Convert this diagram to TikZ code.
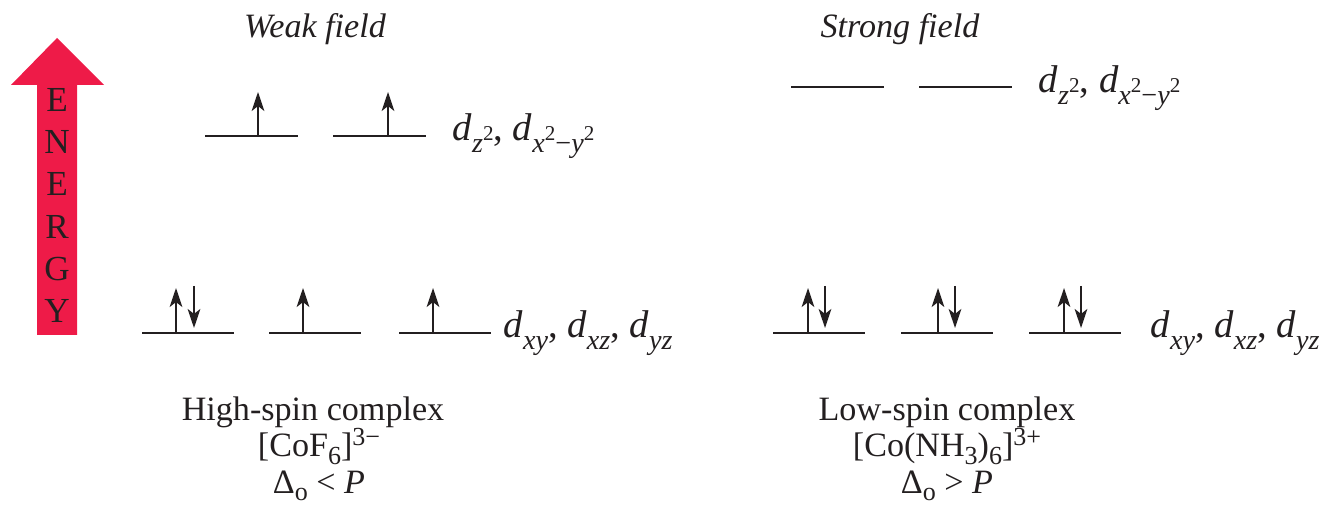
\documentclass[tikz,border=0pt]{standalone}
\usepackage{fontspec}
\setmainfont{Liberation Serif}
\usetikzlibrary{arrows.meta}
\definecolor{mydark}{RGB}{35,31,32}
\definecolor{energyred}{RGB}{238,27,72}
\newcommand{\dsub}[1]{\textit{d}\raisebox{-3.2pt}{\fontsize{8}{9}\selectfont #1}}
\newcommand{\ssup}[1]{\raisebox{3.2pt}{\fontsize{6}{7}\selectfont #1}}
\newcommand{\tsub}[1]{\raisebox{-2.2pt}{\fontsize{7.4}{8}\selectfont #1}}
\newcommand{\tsup}[1]{\raisebox{3.4pt}{\fontsize{7.4}{8}\selectfont #1}}
\newcommand{\mns}{\symbol{"2212}}
\tikzset{
  level/.style={line width=0.75pt, color=mydark},
  spin/.style={-{Stealth[length=5.4pt,width=3.6pt,inset=1.4pt]}, line width=0.6pt, color=mydark},
  lbl/.style={anchor=base west, inner sep=0pt, font=\fontsize{11}{13}\selectfont, text=mydark},
  txt/.style={anchor=base, inner sep=0pt, font=\fontsize{9.7}{11}\selectfont, text=mydark}
}
\begin{document}
\begin{tikzpicture}[x=0.01cm, y=-0.01cm]
  \useasboundingbox (0,0) rectangle (1322,516);
  % Energy arrow
  \fill[energyred] (37,335) -- (37,85) -- (11,85) -- (57,38) -- (104,85) -- (77,85) -- (77,335) -- cycle;
  \foreach \ch [count=\i from 0] in {E,N,E,R,G,Y}
    \node[font=\fontsize{10}{12}\selectfont, text=mydark, inner sep=0pt] (en\i) at (57,{100+42.2*\i}) {\ch};
  % Titles
  \node[txt] (weak) at (315,38) {\textit{Weak field}};
  \node[txt] (strong) at (900,38) {\textit{Strong field}};
  % Weak field levels
  \foreach \xa in {205,333}
    \draw[level] (\xa,136) -- ++(93,0);
  \foreach \xa in {142,269,399}
    \draw[level] (\xa,333) -- ++(92,0);
  \draw[spin] (258,136) -- (258,92);
  \draw[spin] (388,136) -- (388,92);
  \draw[spin] (176,333) -- (176,288);
  \draw[spin] (194,286) -- (194,328);
  \draw[spin] (303,333) -- (303,288);
  \draw[spin] (433,333) -- (433,288);
  \node[lbl] (wup) at (452,141) {\dsub{\textit{z}\ssup{2}}, \dsub{\textit{x}\ssup{2}\mns\textit{y}\ssup{2}}};
  \node[lbl] (wlo) at (503,338) {\dsub{\textit{xy}}, \dsub{\textit{xz}}, \dsub{\textit{yz}}};
  % Strong field levels
  \foreach \xa in {791,919}
    \draw[level] (\xa,87) -- ++(93,0);
  \foreach \xa in {773,901,1029}
    \draw[level] (\xa,333) -- ++(92,0);
  \foreach \xa in {808,938,1064} {
    \draw[spin] (\xa,333) -- (\xa,288);
    \draw[spin] ({\xa+17},286) -- ({\xa+17},328);
  }
  \node[lbl] (sup) at (1038,93) {\dsub{\textit{z}\ssup{2}}, \dsub{\textit{x}\ssup{2}\mns\textit{y}\ssup{2}}};
  \node[lbl] (slo) at (1150,338) {\dsub{\textit{xy}}, \dsub{\textit{xz}}, \dsub{\textit{yz}}};
  % Complexes
  \node[txt] (hs1) at (313,421) {High-spin complex};
  \node[txt] (hs2) at (319,457) {[CoF\tsub{6}]\tsup{3\mns}};
  \node[txt] (hs3) at (319,493) {Δ\tsub{o} {<} \textit{P}};
  \node[txt] (ls1) at (947,421) {Low-spin complex};
  \node[txt] (ls2) at (947,457) {[Co(NH\tsub{3})\tsub{6}]\tsup{3+}};
  \node[txt] (ls3) at (947,493) {Δ\tsub{o} {>} \textit{P}};
\end{tikzpicture}
\end{document}
